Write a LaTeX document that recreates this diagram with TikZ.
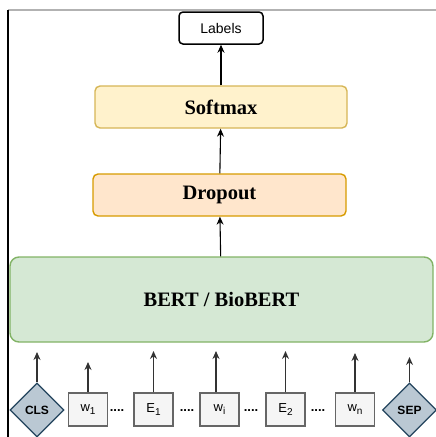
\documentclass[tikz,border=0pt]{standalone}
\usepackage{fontspec}
\setmainfont{Liberation Serif}
\setsansfont{Liberation Sans}
\usetikzlibrary{arrows.meta,shapes.geometric}

\definecolor{softfill}{HTML}{FFF2CC}
\definecolor{softdraw}{HTML}{D6B656}
\definecolor{dropfill}{HTML}{FFE6CC}
\definecolor{dropdraw}{HTML}{D79B00}
\definecolor{bertfill}{HTML}{D5E8D4}
\definecolor{bertdraw}{HTML}{82B366}
\definecolor{tokfill}{HTML}{F5F5F5}
\definecolor{tokdraw}{HTML}{666666}
\definecolor{specfill}{HTML}{BAC8D3}
\definecolor{specdraw}{HTML}{23445D}

% small lowered index for the token names
\newcommand{\tokidx}[1]{\raisebox{-2.5pt}{\fontsize{10}{11}\selectfont #1}}

\tikzset{
    layer/.style={rounded corners=5pt, line width=1.4pt, minimum height=42pt,
        font=\fontsize{20.5}{24}\selectfont\bfseries},
    token/.style={draw=tokdraw, fill=tokfill, line width=1.4pt, minimum width=39pt,
        minimum height=33pt, inner sep=0pt, font=\sffamily\fontsize{13}{15}\selectfont},
    special/.style={diamond, draw=specdraw, fill=specfill, line width=1.2pt,
        minimum width=54pt, minimum height=54pt, inner sep=0pt,
        font=\sffamily\bfseries\fontsize{12}{14}\selectfont},
    gap/.style={font=\sffamily\bfseries\fontsize{13}{15}\selectfont, inner sep=0pt},
    uparrow/.style={-{Stealth[length=8pt,width=7pt]}, line width=1.1pt},
    tokarrow/.style={uparrow, draw=black!80, fill=black}
}

\begin{document}
\begin{tikzpicture}[x=1pt, y=-1pt]
    \useasboundingbox (0,0) rectangle (436,437);
    % page edges
    \draw[gray!60, line width=1.5pt] (8,10) -- (436,10);
    \draw[black, line width=1.2pt] (8,10) -- (8,437);

    % stack of layers
    \node[draw=black, fill=white, rounded corners=4pt, line width=1.5pt, minimum width=84pt,
        minimum height=32pt, font=\sffamily\fontsize{14}{16}\selectfont] (labels) at (221,28) {Labels};
    \node[layer, draw=softdraw, fill=softfill, minimum width=252pt] (softmax) at (221,107) {Softmax};
    \node[layer, draw=dropdraw, fill=dropfill, minimum width=253pt] (dropout) at (219.5,195) {Dropout};
    \node[layer, draw=bertdraw, fill=bertfill, minimum width=423pt, minimum height=85pt,
        rounded corners=9pt] (bert) at (221.5,299.5) {BERT / BioBERT};

    \draw[uparrow] (softmax) -- (labels);
    \draw[uparrow] (dropout) -- (softmax);
    \draw[uparrow] (bert) -- (dropout);

    % input tokens
    \node[special] (cls) at (37,410) {CLS};
    \node[token] (w1) at (88,409.5) {w\tokidx{1}};
    \node[gap] (gap1) at (117,411) {....};
    \node[token] (e1) at (153.5,409.5) {E\tokidx{1}};
    \node[gap] (gap2) at (187,411) {....};
    \node[token] (wi) at (219.5,409.5) {w\tokidx{i}};
    \node[gap] (gap3) at (251,411) {....};
    \node[token] (e2) at (285.5,409.5) {E\tokidx{2}};
    \node[gap] (gap4) at (318,411) {....};
    \node[token] (wn) at (355,409.5) {w\tokidx{n}};
    \node[special] (sep) at (409.5,410) {SEP};

    % arrow ends under the encoder
    \coordinate (cls-in) at (37,352);
    \coordinate (w1-in) at (88,362);
    \coordinate (e1-in) at (153.5,351);
    \coordinate (wi-in) at (216,351);
    \coordinate (e2-in) at (285.5,351);
    \coordinate (wn-in) at (355,353);
    \coordinate (sep-in) at (409.5,357);

    \draw[tokarrow] (cls.north) -- (cls-in);
    \draw[tokarrow] (w1.north) -- (w1-in);
    \draw[tokarrow] (e1.north) -- (e1-in);
    \draw[tokarrow] (wi.north -| wi-in) -- (wi-in);
    \draw[tokarrow] (e2.north) -- (e2-in);
    \draw[tokarrow] (wn.north) -- (wn-in);
    \draw[tokarrow] (sep.north) -- (sep-in);
\end{tikzpicture}
\end{document}
